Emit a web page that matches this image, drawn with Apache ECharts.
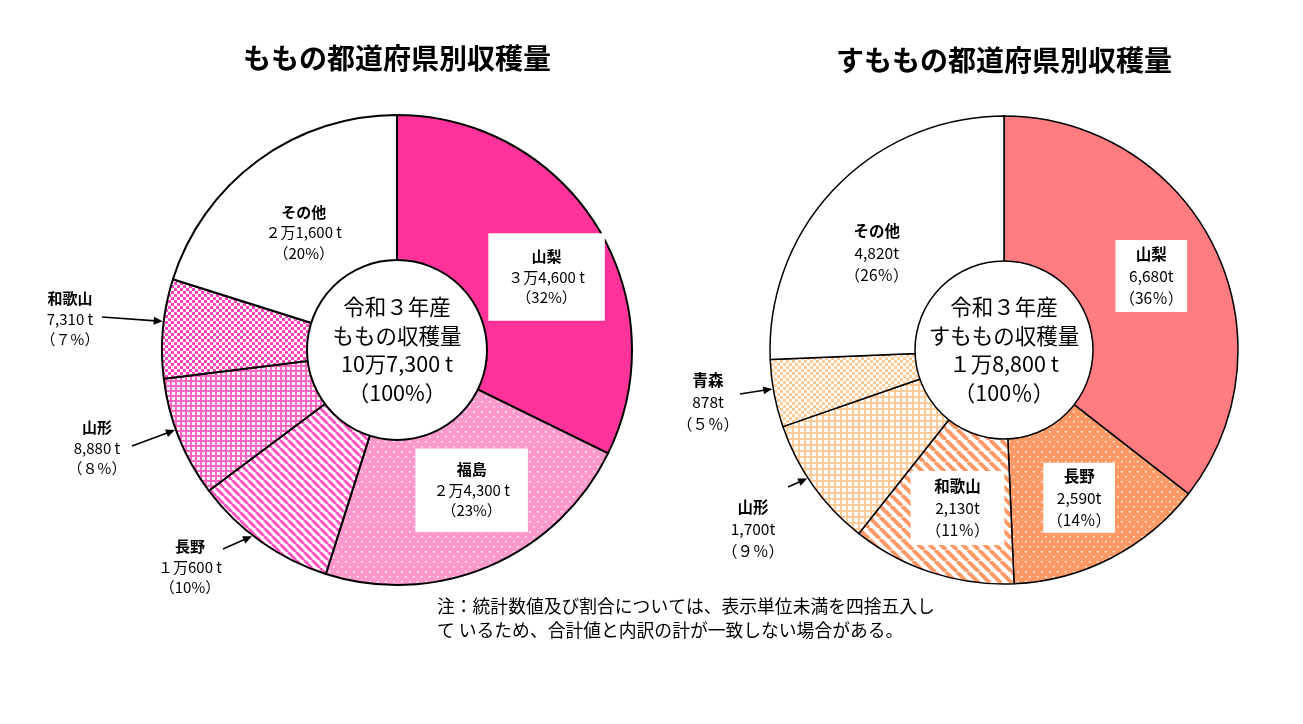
<!DOCTYPE html>
<html><head><meta charset="utf-8">
<script src="https://cdn.jsdelivr.net/npm/echarts@6/dist/echarts.min.js"></script>
<style>html,body{margin:0;padding:0;background:#fff}#c{width:1303px;height:724px}</style>
</head><body><div id="c"></div>
<script>
// ---------- data ----------
const peachCategories = ['山梨', '福島', '長野', '山形', '和歌山', 'その他'];
const peachValues = [34600, 24300, 10600, 8880, 7310, 21600];
const peachTotal = 107300;
const plumCategories = ['山梨', '長野', '和歌山', '山形', '青森', 'その他'];
const plumValues = [6680, 2590, 2130, 1700, 878, 4820];
const plumTotal = 18800;
const chartTitles = ['ももの都道府県別収穫量', 'すももの都道府県別収穫量'];
const centerCaptions = [['令和３年産', 'ももの収穫量'], ['令和３年産', 'すももの収穫量']];
const noteLines = ['注：統計数値及び割合については、表示単位未満を四捨五入し', 'て いるため、合計値と内訳の計が一致しない場合がある。'];

// ---------- helpers ----------
const FONT = '"Noto Sans CJK JP", "Noto Sans", sans-serif';
function fw(n) { return String(n).replace(/[0-9]/g, d => String.fromCharCode(d.charCodeAt(0) + 0xFEE0)); }
function comma(n) { return String(n).replace(/\B(?=(\d{3})+(?!\d))/g, ','); }
function peachAmount(v) {
  const man = Math.floor(v / 10000), rest = v % 10000;
  let s = '';
  if (man > 0) s += (man < 10 ? fw(man) : String(man)) + '万';
  s += (man > 0 && rest < 1000) ? String(rest) : comma(rest);
  return s + ' t';
}
function plumAmount(v) {
  const man = Math.floor(v / 10000), rest = v % 10000;
  if (man > 0) return fw(man) + '万' + comma(rest) + ' t';
  return comma(v) + 't';
}
function pct(v, arr, sign) {
  const sum = arr.reduce((a, b) => a + b, 0);
  const p = Math.round(v / sum * 100);
  return '（' + (p < 10 ? fw(p) : p) + sign + '）';
}

// ---------- patterns ----------
function tile(w, h, draw) {
  const c = document.createElement('canvas'); c.width = w; c.height = h;
  const g = c.getContext('2d'); draw(g, w, h);
  return { image: c, repeat: 'repeat' };
}
function dots(bg) {
  return tile(8, 10, g => { g.fillStyle = bg; g.fillRect(0, 0, 8, 10); g.fillStyle = '#fff'; g.fillRect(1, 1, 1.5, 1.5); g.fillRect(5, 6, 1.5, 1.5); });
}
function stripes(color, p, lw) {
  return tile(p, p, g => {
    g.fillStyle = '#fff'; g.fillRect(0, 0, p, p);
    g.strokeStyle = color; g.lineWidth = lw; g.beginPath();
    for (const k of [-1, 0, 1]) { g.moveTo(k * p, 0); g.lineTo(k * p + p, p); }
    g.stroke();
  });
}
function grid(color, cell, lw) {
  return tile(cell, cell, g => { g.fillStyle = '#fff'; g.fillRect(0, 0, cell, cell); g.fillStyle = color; g.fillRect(0, 0, cell, lw); g.fillRect(0, 0, lw, cell); });
}
function checker(color, s) {
  return tile(2 * s, 2 * s, g => { g.fillStyle = '#fff'; g.fillRect(0, 0, 2 * s, 2 * s); g.fillStyle = color; g.fillRect(0, 0, s, s); g.fillRect(s, s, s, s); });
}

const peachStyles = ['#FF3399', dots('#FF99CC'), stripes('#FF55C0', 8, 3), grid('#FF66C4', 5, 2), checker('#FF44BB', 3), '#FFFFFF'];
const plumStyles = ['#FF7C80', dots('#FF9966'), stripes('#FF9966', 11, 4), grid('#FFCC99', 6, 2), checker('#FFCC99', 3), '#FFFFFF'];

// label layout (positions only)
const peachLabelLayout = {
  '山梨': { dx: 5, dy: 7, box: [13, 20] },
  '福島': { dx: 5, dy: -5.5, box: [11, 18] },
  'その他': { dx: 2, dy: 7.5 },
  '長野': { x: 190, y: 567, arrow: [223, 549] },
  '山形': { x: 97, y: 448, arrow: [132, 446] },
  '和歌山': { x: 70, y: 319, arrow: [102, 317] }
};
const plumLabelLayout = {
  '山梨': { dx: 0, dy: -1, box: [3, 4] },
  '長野': { dx: 0, dy: 1, box: [2, 4] },
  '和歌山': { dx: 2, dy: 1, box: [4, 15] },
  'その他': { dx: -4.5, dy: 8.5 },
  '山形': { x: 753, y: 529, arrow: [788, 487] },
  '青森': { x: 708, y: 402, arrow: [740, 394] }
};

const P = { cx: 397, cy: 350, r0: 88, r: 235, rc: 90, bw: 2 };
const Q = { cx: 1004, cy: 350, r0: 88, r: 234, rc: 89, bw: 1.5 };

function ring(cats, vals, styles, layout, geo, amountFn, sign, fs, lh) {
  return {
    type: 'pie', center: [geo.cx, geo.cy], radius: [geo.r0, geo.r], startAngle: 90, clockwise: true,
    avoidLabelOverlap: false, silent: true, animation: false,
    itemStyle: { borderColor: '#000', borderWidth: geo.bw },
    labelLine: { show: false },
    label: {
      show: true, position: 'inside', color: '#000', fontFamily: FONT,
      formatter: p => `{n|${p.name}}\n{v|${amountFn(p.value)}}\n{p|${pct(p.value, vals, sign)}}`,
      rich: {
        n: { fontSize: fs, fontWeight: 'bold', lineHeight: lh, fontFamily: FONT, color: '#000', align: 'center' },
        v: { fontSize: fs, lineHeight: lh, fontFamily: FONT, color: '#000', align: 'center' },
        p: { fontSize: fs, lineHeight: lh, fontFamily: FONT, color: '#000', align: 'center' }
      }
    },
    labelLayout: params => {
      const o = layout[cats[params.dataIndex]];
      if (!o) return {};
      if (o.x !== undefined) return { x: o.x, y: o.y, align: 'center', verticalAlign: 'middle' };
      return { dx: o.dx, dy: o.dy };
    },
    data: cats.map((name, i) => {
      const o = layout[name] || {};
      const lbl = {};
      if (o.x !== undefined) lbl.position = 'outside';
      if (o.box) { lbl.backgroundColor = '#fff'; lbl.padding = o.box; }
      return { name, value: vals[i], itemStyle: { color: styles[i] }, label: lbl };
    })
  };
}
function centerDisc(geo, lines, fs, lh) {
  return {
    type: 'pie', center: [geo.cx, geo.cy], radius: [0, geo.rc], silent: true, animation: false,
    itemStyle: { color: '#fff', borderColor: '#000', borderWidth: geo.bw },
    labelLine: { show: false },
    label: { show: true, position: 'center', formatter: lines.join('\n'), fontSize: fs, lineHeight: lh, color: '#000', fontFamily: FONT },
    data: [{ value: 1, name: 'total' }]
  };
}

const chart = echarts.init(document.getElementById('c'), null, { renderer: 'canvas' });
const staticGraphics = [
  { type: 'text', x: P.cx, y: 58, style: { text: chartTitles[0], font: 'bold 28px ' + FONT, fill: '#000', textAlign: 'center', textVerticalAlign: 'middle', align: 'center', verticalAlign: 'middle' } },
  { type: 'text', x: Q.cx, y: 60, style: { text: chartTitles[1], font: 'bold 28px ' + FONT, fill: '#000', textAlign: 'center', textVerticalAlign: 'middle', align: 'center', verticalAlign: 'middle' } },
  { type: 'text', x: 437, y: 594, style: { text: noteLines.join('\n'), font: '17.8px ' + FONT, lineHeight: 24, fill: '#000', textAlign: 'left', textVerticalAlign: 'top', align: 'left', verticalAlign: 'top' } }
];

chart.setOption({
  backgroundColor: '#fff',
  animation: false,
  series: [
    ring(peachCategories, peachValues, peachStyles, peachLabelLayout, P, peachAmount, '%', 15, 20.5),
    ring(plumCategories, plumValues, plumStyles, plumLabelLayout, Q, plumAmount, '％', 15.5, 22),
    centerDisc(P, centerCaptions[0].concat([peachAmount(peachTotal), '（100%）']), 21.5, 28.5),
    centerDisc(Q, centerCaptions[1].concat([plumAmount(plumTotal), '（100％）']), 21.5, 28.5)
  ],
  graphic: staticGraphics
});

// arrows pointing to slices, tips from the library's pie layout
function sliceInfo(si, idx, cats, vals, geo) {
  try {
    const lay = chart.getModel().getSeriesByIndex(si).getData().getItemLayout(idx);
    if (lay && isFinite(lay.startAngle)) return lay;
  } catch (e) {}
  const sum = vals.reduce((a, b) => a + b, 0);
  let acc = 0; for (let i = 0; i < idx; i++) acc += vals[i];
  const s = -Math.PI / 2 + acc / sum * Math.PI * 2;
  return { cx: geo.cx, cy: geo.cy, r: geo.r, startAngle: s, endAngle: s + vals[idx] / sum * Math.PI * 2 };
}
const arrows = [];
function addArrows(si, cats, vals, layout, geo) {
  cats.forEach((name, i) => {
    const o = layout[name];
    if (!o || !o.arrow) return;
    const lay = sliceInfo(si, i, cats, vals, geo);
    const a = lay.startAngle + 0.57 * (lay.endAngle - lay.startAngle);
    const tx = lay.cx + (lay.r + 1) * Math.cos(a), ty = lay.cy + (lay.r + 1) * Math.sin(a);
    const [sx, sy] = o.arrow;
    const L = Math.hypot(tx - sx, ty - sy), ux = (tx - sx) / L, uy = (ty - sy) / L;
    const hl = 9, hw = 4;
    const bx = tx - ux * hl, by = ty - uy * hl;
    arrows.push({ type: 'line', silent: true, shape: { x1: sx, y1: sy, x2: bx + ux * 2, y2: by + uy * 2 }, style: { stroke: '#000', lineWidth: 1.6 } });
    arrows.push({ type: 'polygon', silent: true, shape: { points: [[tx, ty], [bx - uy * hw, by + ux * hw], [bx + uy * hw, by - ux * hw]] }, style: { fill: '#000' } });
  });
}
addArrows(0, peachCategories, peachValues, peachLabelLayout, P);
addArrows(1, plumCategories, plumValues, plumLabelLayout, Q);
chart.setOption({ graphic: staticGraphics.concat(arrows) }, { replaceMerge: ['graphic'] });
</script>
</body></html>
